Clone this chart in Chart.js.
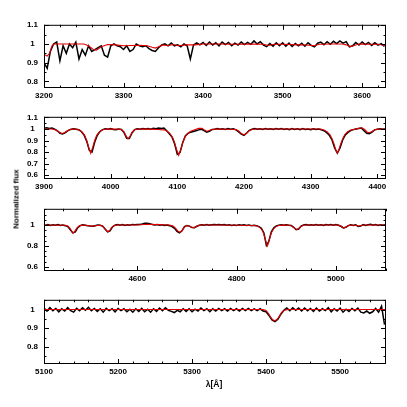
<!DOCTYPE html>
<html>
<head>
<meta charset="utf-8">
<script src="https://cdn.jsdelivr.net/npm/chart.js@4.4.1/dist/chart.umd.min.js"></script>
<style>
body { margin: 0; background: #fff; width: 407px; height: 407px; position: relative; overflow: hidden; font-family: "Liberation Sans", Arial, sans-serif; }
canvas { position: absolute; left: 0; }
#ylab { position: absolute; left: 16px; top: 199px; transform: translate(-50%, -50%) rotate(-90deg); font-size: 8px; font-weight: bold; white-space: nowrap; }
#xlab { position: absolute; left: 214px; top: 384px; transform: translate(-50%, -50%); font-size: 8.5px; font-weight: bold; white-space: nowrap; }
</style>
</head>
<body>
<canvas id="c1" width="407" height="94" style="top:14px"></canvas>
<canvas id="c2" width="407" height="93" style="top:106px"></canvas>
<canvas id="c3" width="407" height="93" style="top:198px"></canvas>
<canvas id="c4" width="407" height="95" style="top:289px"></canvas>
<div id="ylab">Normalized flux</div>
<div id="xlab">λ[Å]</div>
<script>
// observed spectra: first wavelength, sampling step (Å) and flux values
const obs1Start = 3200, obs1Step = 4;
const obs1 = [0.90, 0.87, 0.96, 1.00, 1.01, 0.91, 0.99, 0.95, 1.00, 0.98, 1.01, 0.92, 0.97, 0.94, 0.99, 0.96,
  0.97, 0.98, 0.99, 0.94, 0.93, 0.99, 1.00, 0.99, 0.985, 0.97, 0.99, 0.96, 0.97, 1.00, 0.99, 0.985,
  0.99, 0.975, 0.965, 0.96, 0.98, 0.995, 1.00, 0.99, 1.005, 0.99, 0.995, 0.985, 1.00, 0.99, 0.92, 0.995,
  1.005, 0.995,
  1.008, 0.992, 1.010, 0.994, 1.006, 0.990, 1.010, 0.996, 1.008, 0.990, 1.004, 0.994, 1.010, 0.996, 1.008, 0.998,
  1.016, 1.000, 1.012, 0.994, 0.986, 1.002, 0.988, 1.006, 0.990, 1.006, 0.988, 1.004, 0.986, 1.002, 0.990, 1.004,
  0.988, 1.006, 0.992, 0.984, 1.004, 1.010, 0.996, 1.012, 0.998, 1.014, 1.002, 1.016, 1.004, 1.012, 0.984, 0.990,
  1.008, 0.994, 1.010, 0.996, 1.008, 0.992, 1.006, 0.994, 1.002, 0.986];

const obs2Start = 3900, obs2Step = 4;
const obs2 = [1.006, 1.010, 1.004, 1.008, 0.998, 0.984, 0.962, 0.956, 0.968, 0.985, 0.996, 1.002, 0.998, 0.993, 0.978, 0.948,
  0.895, 0.815, 0.800, 0.885, 0.945, 0.978, 0.994, 1.002, 0.998, 1.004, 0.996, 0.994, 1.000, 0.995, 0.970, 0.920,
  0.918, 0.965, 0.994, 1.002, 0.998, 1.004, 1.000, 1.004, 0.998, 1.006, 1.002, 1.008, 1.004, 1.008, 0.985, 0.958,
  0.930, 0.870, 0.780, 0.795, 0.880, 0.940, 0.962, 0.972, 0.978, 0.985, 0.992, 0.998, 0.985, 0.972, 0.980, 0.994,
  0.998, 1.004, 0.998, 1.002, 0.996, 1.004, 0.998, 1.002, 0.992, 0.975, 0.955, 0.945, 0.965, 0.988, 0.998, 1.004,
  0.998, 1.002, 0.996, 1.004, 0.998, 1.002, 0.996, 1.004, 0.998, 1.004, 0.996, 1.002, 0.994, 1.004, 0.996, 1.002,
  0.994, 1.004, 0.996, 1.000, 0.994, 1.002, 0.996, 1.000, 0.992, 0.985, 0.968, 0.945, 0.905, 0.835, 0.790, 0.835,
  0.905, 0.948, 0.970, 0.985, 0.994, 1.000, 1.004, 1.008, 0.985, 0.962, 0.958, 0.972, 0.992, 0.998, 1.002, 0.998,
  1.000];

const obs3Start = 4410, obs3Step = 5;
const obs3 = [1.002, 0.998, 1.004, 0.996, 1.002, 0.998, 1.004, 0.996, 1.000, 0.994, 0.985, 0.955, 0.925, 0.935, 0.975, 0.994,
  1.002, 0.998, 0.994, 0.990, 0.988, 0.994, 1.000, 0.998, 0.990, 0.962, 0.935, 0.945, 0.982, 0.998, 1.004, 0.998,
  1.004, 0.996, 1.002, 0.998, 1.006, 1.002, 1.004, 1.006, 1.010, 1.016, 1.018, 1.012, 1.006, 1.000, 1.004, 0.998,
  1.002, 0.996, 1.000, 0.994, 0.985, 0.968, 0.940, 0.925, 0.945, 0.985, 0.996, 0.990, 0.976, 0.975, 0.988, 0.998,
  1.002, 0.998, 1.004, 0.998, 1.002, 1.006, 1.002, 1.006, 1.000, 1.004, 0.998, 1.002, 0.996, 1.000, 0.996, 1.002,
  0.998, 1.002, 0.996, 1.000, 0.994, 0.998, 0.994, 0.985, 0.970, 0.925, 0.805, 0.845, 0.935, 0.975, 0.992, 0.998,
  1.002, 0.998, 1.002, 0.998, 0.996, 0.978, 0.955, 0.962, 0.990, 1.000, 1.004, 0.998, 1.002, 0.998, 1.004, 0.998,
  1.002, 0.996, 1.004, 1.000, 1.004, 0.998, 1.004, 0.998, 0.988, 0.972, 0.978, 0.994, 1.002, 0.996, 1.002, 0.986,
  0.990, 1.004, 0.996, 1.002, 1.008, 0.998, 1.004, 0.996, 1.002, 0.998, 1.002, 1.000];

const obs4Start = 5100, obs4Step = 4;
const obs4 = [1.008, 0.992, 1.010, 0.994, 1.006, 0.988, 1.004, 0.992, 1.010, 0.994, 0.986, 1.006, 0.994, 1.010, 0.996, 1.012,
  0.994, 1.006, 0.990, 1.004, 0.986, 1.006, 0.994, 1.004, 0.988, 1.006, 0.994, 1.004, 0.988, 1.002, 0.986, 1.004,
  0.990, 1.006, 0.988, 1.002, 0.986, 1.004, 0.990, 1.008, 0.994, 1.010, 0.996, 0.990, 0.984, 0.996, 0.988, 1.004,
  0.990, 1.004, 0.988, 1.002, 0.992, 1.008, 0.994, 1.004, 0.988, 1.004, 0.992, 1.006, 0.994, 1.004, 0.992, 1.006,
  0.994, 1.004, 0.992, 1.006, 0.994, 1.006, 0.994, 1.004, 0.994, 1.004, 0.992, 0.988, 0.968, 0.945, 0.935, 0.948,
  0.975, 0.996, 1.008, 0.994, 1.010, 0.996, 1.008, 0.992, 1.008, 0.994, 1.006, 0.990, 1.008, 0.992, 1.004, 0.994,
  1.010, 0.988, 1.004, 0.992, 1.008, 0.986, 1.002, 0.990, 1.006, 0.994, 1.008, 0.986, 0.982, 0.992, 0.980, 0.988,
  1.006, 0.986, 1.018, 0.920];

// model spectra: [wavelength, flux]
const model1 = [[3200, 0.945], [3204, 0.935], [3207, 0.95], [3210, 0.99], [3213, 1.0], [3250, 1.0], [3256, 0.99],
  [3262, 0.97], [3266, 0.967], [3272, 0.985], [3280, 0.997], [3290, 0.995], [3300, 0.99], [3310, 0.992],
  [3320, 0.993], [3330, 0.99], [3336, 0.982], [3340, 0.978], [3344, 0.985], [3350, 0.995], [3356, 0.99],
  [3362, 0.997], [3370, 0.99], [3378, 0.995], [3390, 0.995], [3400, 1.0], [3420, 1.0], [3440, 0.998], [3460, 1.0],
  [3476, 0.998], [3482, 0.992], [3490, 0.998], [3500, 0.998], [3520, 0.995], [3530, 0.994], [3540, 0.99],
  [3546, 0.998], [3560, 1.0], [3575, 1.0], [3580, 0.995], [3585, 0.986], [3590, 0.992], [3596, 1.0], [3610, 0.998],
  [3620, 0.998], [3630, 0.99]];

const model2 = [[3900, 1.0], [3912, 1.0], [3918, 0.99], [3922, 0.975], [3926, 0.962], [3930, 0.965], [3935, 0.985],
  [3940, 0.998], [3948, 1.0], [3953, 0.99], [3957, 0.975], [3961, 0.945], [3964, 0.9], [3967, 0.84], [3970, 0.79],
  [3973, 0.84], [3976, 0.9], [3979, 0.945], [3983, 0.975], [3988, 0.993], [3995, 1.0], [4010, 0.998], [4016, 0.995],
  [4020, 0.975], [4023, 0.94], [4026, 0.915], [4029, 0.935], [4032, 0.97], [4036, 0.993], [4042, 1.0], [4060, 0.998],
  [4070, 0.995], [4080, 0.992], [4085, 0.98], [4089, 0.96], [4093, 0.925], [4096, 0.88], [4099, 0.82], [4102, 0.772],
  [4105, 0.82], [4108, 0.88], [4111, 0.925], [4115, 0.96], [4120, 0.98], [4126, 0.993], [4132, 1.005], [4137, 1.006],
  [4141, 0.99], [4144, 0.98], [4147, 0.985], [4152, 0.998], [4160, 1.0], [4188, 0.995], [4192, 0.982], [4196, 0.96],
  [4200, 0.948], [4204, 0.962], [4208, 0.985], [4213, 0.998], [4220, 1.0], [4315, 1.0], [4320, 0.99], [4325, 0.975],
  [4329, 0.95], [4332, 0.915], [4335, 0.87], [4338, 0.815], [4340, 0.792], [4342, 0.815], [4345, 0.87], [4348, 0.915],
  [4351, 0.95], [4355, 0.975], [4360, 0.99], [4366, 0.998], [4372, 1.005], [4377, 1.01], [4381, 0.995], [4385, 0.972],
  [4388, 0.968], [4392, 0.978], [4397, 0.995], [4403, 1.0], [4415, 1.0]];

const model3 = [[4405, 1.0], [4455, 0.998], [4460, 0.99], [4464, 0.97], [4468, 0.94], [4471, 0.925], [4474, 0.94],
  [4478, 0.97], [4483, 0.992], [4490, 1.0], [4500, 0.995], [4508, 0.99], [4515, 0.993], [4525, 0.998], [4530, 0.99],
  [4534, 0.97], [4538, 0.945], [4541, 0.935], [4544, 0.945], [4548, 0.975], [4553, 0.995], [4560, 1.0], [4600, 1.0],
  [4620, 1.008], [4640, 1.004], [4665, 1.0], [4672, 0.99], [4677, 0.97], [4681, 0.945], [4686, 0.93], [4690, 0.945],
  [4694, 0.975], [4699, 0.995], [4704, 0.99], [4709, 0.978], [4713, 0.974], [4717, 0.98], [4722, 0.995], [4730, 1.0],
  [4760, 1.0], [4800, 0.998], [4835, 0.996], [4842, 0.99], [4847, 0.975], [4851, 0.955], [4854, 0.925], [4857, 0.88],
  [4860, 0.825], [4862, 0.8], [4864, 0.825], [4867, 0.88], [4870, 0.925], [4874, 0.96], [4879, 0.985], [4886, 0.997],
  [4895, 1.0], [4908, 0.998], [4913, 0.985], [4917, 0.968], [4921, 0.958], [4925, 0.965], [4929, 0.985], [4935, 0.998],
  [4945, 1.0], [5005, 1.0], [5010, 0.99], [5014, 0.976], [5017, 0.973], [5021, 0.982], [5026, 0.995], [5032, 1.0],
  [5043, 0.995], [5047, 0.988], [5051, 0.995], [5058, 1.0], [5105, 1.0]];

const model4 = [[5100, 1.0], [5396, 1.0], [5400, 0.995], [5403, 0.98], [5406, 0.96], [5409, 0.945], [5412, 0.94],
  [5415, 0.948], [5418, 0.965], [5421, 0.985], [5425, 0.997], [5430, 1.0], [5565, 1.0]];

// tick labels
const xTicks1 = [3200, 3300, 3400, 3500, 3600];
const xTicks2 = [3900, 4000, 4100, 4200, 4300, 4400];
const xTicks3 = [4600, 4800, 5000];
const xTicks4 = [5100, 5200, 5300, 5400, 5500];
const yTicks1 = [0.8, 0.9, 1, 1.1];
const yTicks2 = [0.6, 0.7, 0.8, 0.9, 1, 1.1];
const yTicks3 = [0.6, 0.8, 1];
const yTicks4 = [0.8, 0.9, 1];

// inward ticks on all four sides plus the box
const frameTicks = {
  id: 'frameTicks',
  afterDraw(chart, args, o) {
    const { ctx, chartArea: a, scales: { x, y } } = chart;
    const isMajor = (v, m) => Math.abs(v / m - Math.round(v / m)) < 1e-6;
    ctx.save();
    ctx.strokeStyle = '#000';
    ctx.lineWidth = 1;
    ctx.strokeRect(a.left + 0.5, a.top + 0.5, a.right - a.left - 1, a.bottom - a.top - 1);
    ctx.beginPath();
    for (let i = Math.ceil(x.min / o.xMinor - 1e-9); i * o.xMinor <= x.max + 1e-9; i++) {
      const v = i * o.xMinor;
      const px = Math.round(x.getPixelForValue(v)) + 0.5;
      const len = isMajor(v, o.xMajor) ? 5 : 2.5;
      ctx.moveTo(px, a.bottom); ctx.lineTo(px, a.bottom - len);
      ctx.moveTo(px, a.top); ctx.lineTo(px, a.top + len);
    }
    for (let i = Math.ceil(y.min / o.yMinor - 1e-9); i * o.yMinor <= y.max + 1e-9; i++) {
      const v = i * o.yMinor;
      const py = Math.round(y.getPixelForValue(v)) + 0.5;
      const len = isMajor(v, o.yMajor) ? 5 : 2.5;
      ctx.moveTo(a.left, py); ctx.lineTo(a.left + len, py);
      ctx.moveTo(a.right, py); ctx.lineTo(a.right - len, py);
    }
    ctx.stroke();
    ctx.restore();
  }
};

const tickFont = { family: 'Liberation Sans', size: 8, weight: 'bold' };

function makePanel(id, p) {
  const obsData = p.obs.map((f, i) => ({ x: p.start + i * p.step, y: f }));
  const modelData = p.model.map(d => ({ x: d[0], y: d[1] }));
  new Chart(document.getElementById(id), {
    type: 'line',
    data: {
      datasets: [
        { data: modelData, borderColor: '#e00000', borderWidth: 1.1, pointRadius: 0, order: 0 },
        { data: obsData, borderColor: '#000', borderWidth: 1.5, pointRadius: 0, order: 1 }
      ]
    },
    options: {
      responsive: false,
      animation: false,
      devicePixelRatio: 1,
      layout: { padding: { top: 8, right: 21, left: 0, bottom: 0 } },
      plugins: {
        legend: { display: false },
        tooltip: { enabled: false },
        frameTicks: { xMinor: p.xMinor, xMajor: p.xMajor, yMinor: p.yMinor, yMajor: p.yMajor }
      },
      scales: {
        x: {
          type: 'linear', min: p.xMin, max: p.xMax,
          grid: { display: false, drawTicks: false },
          border: { display: false },
          ticks: { font: tickFont, color: '#000', padding: 3, maxRotation: 0, autoSkip: false, callback: v => String(v) },
          afterBuildTicks: s => { s.ticks = p.xTicks.map(v => ({ value: v })); },
          afterFit: s => { s.height = 20; }
        },
        y: {
          type: 'linear', min: p.yMin, max: p.yMax,
          grid: { display: false, drawTicks: false },
          border: { display: false },
          ticks: { font: tickFont, color: '#000', padding: 6, autoSkip: false, crossAlign: 'center', callback: v => String(Math.round(v * 100) / 100) },
          afterBuildTicks: s => { s.ticks = p.yTicks.map(v => ({ value: v })); },
          afterFit: s => { s.width = 44; }
        }
      }
    },
    plugins: [frameTicks]
  });
}

makePanel('c1', { obs: obs1, start: obs1Start, step: obs1Step, model: model1, xMin: 3200, xMax: 3630, yMin: 0.765, yMax: 1.102,
  xTicks: xTicks1, yTicks: yTicks1, xMinor: 20, xMajor: 100, yMinor: 0.05, yMajor: 0.1 });
makePanel('c2', { obs: obs2, start: obs2Start, step: obs2Step, model: model2, xMin: 3900, xMax: 4413, yMin: 0.567, yMax: 1.105,
  xTicks: xTicks2, yTicks: yTicks2, xMinor: 25, xMajor: 100, yMinor: 0.05, yMajor: 0.1 });
makePanel('c3', { obs: obs3, start: obs3Start, step: obs3Step, model: model3, xMin: 4412, xMax: 5101, yMin: 0.561, yMax: 1.155,
  xTicks: xTicks3, yTicks: yTicks3, xMinor: 50, xMajor: 200, yMinor: 0.05, yMajor: 0.2 });
makePanel('c4', { obs: obs4, start: obs4Start, step: obs4Step, model: model4, xMin: 5100, xMax: 5562, yMin: 0.709, yMax: 1.052,
  xTicks: xTicks4, yTicks: yTicks4, xMinor: 20, xMajor: 100, yMinor: 0.05, yMajor: 0.1 });
</script>
</body>
</html>
